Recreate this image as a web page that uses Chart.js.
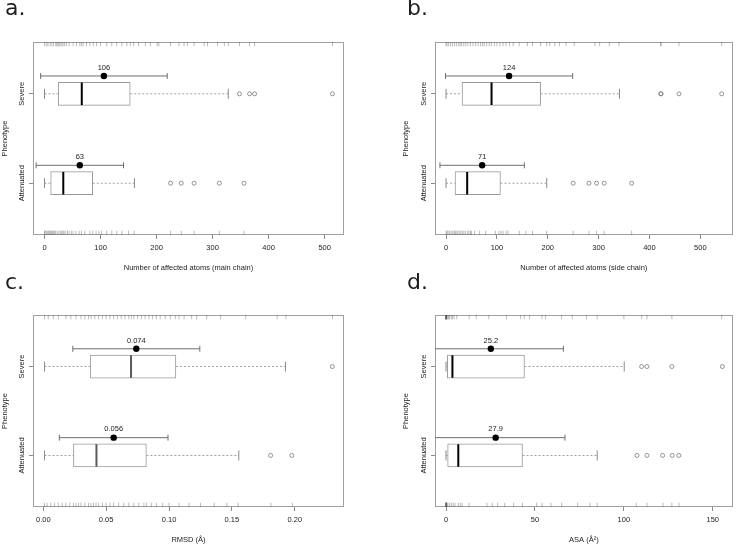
<!DOCTYPE html>
<html><head><meta charset="utf-8">
<script src="https://cdn.jsdelivr.net/npm/chart.js@4.4.1/dist/chart.umd.min.js"></script>
<style>
html,body{margin:0;padding:0;background:#fff;}
#wrap{position:relative;width:746px;height:544px;overflow:hidden;background:#fff;}
canvas{position:absolute;}
.lt{position:absolute;font-family:"DejaVu Sans",sans-serif;font-size:22px;line-height:22px;color:#1e1e1e;}
</style></head><body>
<div id="wrap">
<canvas id="ca" width="373" height="272" style="left:0;top:0"></canvas>
<canvas id="cb" width="373" height="272" style="left:373px;top:0"></canvas>
<canvas id="cc" width="373" height="272" style="left:0;top:272px"></canvas>
<canvas id="cd" width="373" height="272" style="left:373px;top:272px"></canvas>
<div class="lt" style="left:5px;top:-3px">a.</div>
<div class="lt" style="left:407px;top:-3px">b.</div>
<div class="lt" style="left:5px;top:271px">c.</div>
<div class="lt" style="left:407px;top:271px">d.</div>
</div>
<script>
// ---------- data ----------
const categories = ['Attenuated', 'Severe'];
const catPos = [1, 2];

// a. main chain
const aTicks = [0, 100, 200, 300, 400, 500];
const aTickLabels = ['0', '100', '200', '300', '400', '500'];
const aLower = [0, 0];
const aQ1 = [11, 24.5];
const aMedian = [33.5, 66.5];
const aQ3 = [86, 153];
const aUpper = [160.5, 328];
const aMean = [63, 106];
const aSD = [78, 113];
const aOutAtt = [225, 244, 267, 312, 356];
const aOutSev = [348, 366, 375, 514];
const aRugAtt = [0,1,3,5,7,9,11,12,14,16,18,20,23,26,29,31,33,35,38,41,44,48,51,56,62,66,72,81,86,92,97,102,111,120,129,138,150,160,225,244,267,312,356];
const aRugSev = [0,3,6,10,13,16,20,22,24,26,28,31,33,36,39,44,51,57,63,66,69,75,81,87,93,100,111,120,129,138,147,153,159,168,180,189,201,204,225,240,249,255,267,285,291,309,321,328,348,366,375,514];

// b. side chain
const bTicks = [0, 100, 200, 300, 400, 500];
const bTickLabels = ['0', '100', '200', '300', '400', '500'];
const bLower = [0, 0];
const bQ1 = [17.7, 31.5];
const bMedian = [41.6, 89.5];
const bQ3 = [107, 186];
const bUpper = [198, 341];
const bMean = [71, 124];
const bSD = [83, 125];
const bOutAtt = [250, 281, 296, 311, 365];
const bOutSev = [422, 423, 458, 542];
const bRugAtt = [0,2,4,7,10,13,16,18,20,23,26,29,32,35,38,42,45,48,50,56,66,78,97,104,108,112,118,122,144,157,170,198,250,281,296,311,365];
const bRugSev = [0,2,5,9,13,17,21,25,28,31,35,39,43,48,53,58,63,68,72,75,80,85,89,95,100,106,112,118,125,132,144,160,170,186,198,204,214,223,236,252,293,302,321,340,422,423,458,542];

// c. RMSD
const cTicks = [0, 0.05, 0.10, 0.15, 0.20];
const cTickLabels = ['0.00', '0.05', '0.10', '0.15', '0.20'];
const cLower = [0.001, 0.001];
const cQ1 = [0.024, 0.0373];
const cMedian = [0.0423, 0.0698];
const cQ3 = [0.082, 0.1055];
const cUpper = [0.1555, 0.1926];
const cMean = [0.056, 0.074];
const cSD = [0.0432, 0.0505];
const cOutAtt = [0.1808, 0.1976];
const cOutSev = [0.2299];
const cRugAtt = [0.001,0.003,0.006,0.009,0.012,0.015,0.018,0.021,0.024,0.026,0.028,0.03,0.033,0.036,0.038,0.04,0.042,0.044,0.047,0.05,0.053,0.056,0.06,0.064,0.068,0.072,0.076,0.08,0.082,0.086,0.09,0.095,0.1,0.108,0.116,0.125,0.136,0.146,0.155,0.181,0.198];
const cRugSev = [0.001,0.004,0.008,0.012,0.018,0.022,0.026,0.03,0.033,0.036,0.038,0.041,0.044,0.047,0.05,0.053,0.056,0.059,0.062,0.065,0.068,0.07,0.072,0.075,0.078,0.081,0.084,0.087,0.09,0.093,0.097,0.101,0.105,0.108,0.112,0.118,0.122,0.13,0.141,0.161,0.186,0.193,0.23];

// d. ASA
const dTicks = [0, 50, 100, 150];
const dTickLabels = ['0', '50', '100', '150'];
const dLower = [0, 0];
const dQ1 = [0.9, 0.7];
const dMedian = [6.9, 3.6];
const dQ3 = [43, 44.1];
const dUpper = [85, 100.2];
const dMean = [27.9, 25.2];
const dSD = [39, 40.8];
const dOutAtt = [107.4, 113, 121.8, 127.2, 130.9];
const dOutSev = [110, 113, 127, 155.4];
const dRugAtt = [0,0,0,0,0,0,0,0.5,1,2,3,4,5,6.9,8,9,13,23,26,29,33,38,43,51,54,59,65,74,81,85,107,113,122,127,131];
const dRugSev = [0,0,0,0,0,0,0,0,0.5,1,1.5,2,3,3.6,4.5,6,13,17,24,34,42,44,47,54,56,65,71,79,85,100,110,113,127,155];

// ---------- drawing ----------
const Y_MIN = 0.42, Y_MAX = 2.58, MEAN_OFF = 0.2, RUG_INSET = 0.024;
const FONT = '"Liberation Sans", Arial, Helvetica, sans-serif';
Chart.defaults.font.family = FONT;
Chart.defaults.font.size = 7.5;
Chart.defaults.color = '#222';

function makePanel(id, p) {
  const all = p.rugAtt.concat(p.rugSev);
  const lo = Math.min(...all), hi = Math.max(...all);
  const ext = (hi - lo) * 0.04;
  const ds = [];
  // mean points
  ds.push({type: 'scatter', data: categories.map((c, i) => ({x: p.mean[i], y: catPos[i] + MEAN_OFF})),
    pointRadius: 3.2, pointBackgroundColor: '#000', pointBorderColor: '#000', pointBorderWidth: 0});
  // SD bars
  categories.forEach((c, i) => ds.push({type: 'line', data: [
      {x: p.mean[i] - p.sd[i], y: catPos[i] + MEAN_OFF}, {x: p.mean[i] + p.sd[i], y: catPos[i] + MEAN_OFF}],
    borderColor: '#6f6f6f', borderWidth: 1, pointStyle: 'line', pointRotation: 90, pointRadius: 3,
    pointBorderColor: '#6f6f6f', pointBorderWidth: 1, fill: false}));
  // medians
  ds.push({type: 'scatter', data: categories.map((c, i) => ({x: p.median[i], y: catPos[i]})),
    pointStyle: 'line', pointRotation: 90, pointRadius: 11.3, pointBorderColor: p.medColor, pointBorderWidth: 2});
  // outliers
  [p.outAtt, p.outSev].forEach((arr, i) => ds.push({type: 'scatter', data: arr.map(v => ({x: v, y: catPos[i]})),
    pointStyle: 'circle', pointRadius: 2, pointBorderWidth: 0.8, pointBorderColor: '#7a7a7a', pointBackgroundColor: 'rgba(255,255,255,0)'}));
  // staples
  ds.push({type: 'scatter', data: categories.flatMap((c, i) => [{x: p.lower[i], y: catPos[i]}, {x: p.upper[i], y: catPos[i]}]),
    pointStyle: 'line', pointRotation: 90, pointRadius: 5, pointBorderColor: '#8a8a8a', pointBorderWidth: 1});
  // boxes
  ds.push({type: 'bar', indexAxis: 'y', grouped: false,
    data: categories.map((c, i) => ({y: catPos[i], x: [p.q1[i], p.q3[i]]})),
    backgroundColor: '#ffffff', borderColor: '#9a9a9a', borderWidth: 1, borderSkipped: false, barThickness: 23});
  // whiskers
  categories.forEach((c, i) => {
    [[p.lower[i], p.q1[i]], [p.q3[i], p.upper[i]]].forEach(seg => ds.push({type: 'line',
      data: seg.map(v => ({x: v, y: catPos[i]})), borderColor: '#8a8a8a', borderWidth: 0.8,
      borderDash: [2, 2], pointRadius: 0, fill: false}));
  });
  // rugs
  ds.push({type: 'scatter', data: p.rugAtt.map(v => ({x: v, y: Y_MIN + RUG_INSET})),
    pointStyle: 'line', pointRotation: 90, pointRadius: 2.2, pointBorderColor: 'rgba(70,70,70,0.45)', pointBorderWidth: 0.8});
  ds.push({type: 'scatter', data: p.rugSev.map(v => ({x: v, y: Y_MAX - RUG_INSET})),
    pointStyle: 'line', pointRotation: 90, pointRadius: 2.2, pointBorderColor: 'rgba(70,70,70,0.45)', pointBorderWidth: 0.8});

  const plug = {
    id: 'rstyle' + id,
    beforeDatasetsDraw(chart) {
      const {ctx, chartArea: a} = chart;
      ctx.save();
      ctx.strokeStyle = '#a0a0a0'; ctx.lineWidth = 1;
      ctx.strokeRect(Math.round(a.left) + 0.5, Math.round(a.top) + 0.5, Math.round(a.right - a.left) - 1, Math.round(a.bottom - a.top) - 1);
      ctx.restore();
    },
    afterDraw(chart) {
      const {ctx, chartArea: a, scales: {x, y}} = chart;
      ctx.save();
      ctx.font = '7.5px ' + FONT;
      ctx.fillStyle = '#222';
      ctx.textAlign = 'center'; ctx.textBaseline = 'middle';
      p.mean.forEach((m, i) => ctx.fillText(p.fmt(m), x.getPixelForValue(m), y.getPixelForValue(catPos[i] + MEAN_OFF) - 8.3));
      categories.forEach((c, i) => {
        ctx.save();
        ctx.translate(a.left - 11.3, y.getPixelForValue(catPos[i]));
        ctx.rotate(-Math.PI / 2);
        ctx.fillText(c, 0, 0);
        ctx.restore();
      });
      ctx.restore();
    }
  };

  return new Chart(document.getElementById(id), {
    type: 'scatter',
    data: {datasets: ds},
    plugins: [plug],
    options: {
      responsive: false, animation: false, devicePixelRatio: 1,
      layout: {padding: {left: p.padLeft, right: p.padRight, top: p.padTop, bottom: 0}},
      plugins: {legend: {display: false}, tooltip: {enabled: false}},
      scales: {
        x: {type: 'linear', min: lo - ext, max: hi + ext, offset: false,
          afterBuildTicks: s => { s.ticks = p.ticks.map(v => ({value: v})); },
          afterFit: s => { s.height = 37; },
          ticks: {autoSkip: false, maxRotation: 0, padding: 4.5, color: '#222', callback: (v, i) => p.tickLabels[i]},
          grid: {display: true, drawOnChartArea: false, drawTicks: true, tickLength: 4, color: '#8a8a8a', offset: false},
          border: {display: false},
          title: {display: true, text: p.xTitle, color: '#222', padding: {top: 1.5, bottom: 0}, font: {size: 7.5}}},
        y: {type: 'linear', min: Y_MIN, max: Y_MAX, offset: false,
          afterBuildTicks: s => { s.ticks = catPos.map(v => ({value: v})); },
          afterFit: s => { s.width = p.yWidth; },
          ticks: {display: false},
          grid: {display: true, drawOnChartArea: false, drawTicks: true, tickLength: 4, color: '#8a8a8a', offset: false},
          border: {display: false},
          title: {display: true, text: 'Phenotype', color: '#222', padding: {top: 0, bottom: 0}, font: {size: 7.5}}}
      }
    }
  });
}

makePanel('ca', {ticks: aTicks, tickLabels: aTickLabels, lower: aLower, q1: aQ1, median: aMedian, q3: aQ3, upper: aUpper,
  mean: aMean, sd: aSD, outAtt: aOutAtt, outSev: aOutSev, rugAtt: aRugAtt, rugSev: aRugSev,
  fmt: v => v.toFixed(0), xTitle: 'Number of affected atoms (main chain)', medColor: '#000',
  padLeft: 0, padRight: 29, padTop: 42, yWidth: 33});
makePanel('cb', {ticks: bTicks, tickLabels: bTickLabels, lower: bLower, q1: bQ1, median: bMedian, q3: bQ3, upper: bUpper,
  mean: bMean, sd: bSD, outAtt: bOutAtt, outSev: bOutSev, rugAtt: bRugAtt, rugSev: bRugSev,
  fmt: v => v.toFixed(0), xTitle: 'Number of affected atoms (side chain)', medColor: '#000',
  padLeft: 28, padRight: 0, padTop: 42, yWidth: 34});
makePanel('cc', {ticks: cTicks, tickLabels: cTickLabels, lower: cLower, q1: cQ1, median: cMedian, q3: cQ3, upper: cUpper,
  mean: cMean, sd: cSD, outAtt: cOutAtt, outSev: cOutSev, rugAtt: cRugAtt, rugSev: cRugSev,
  fmt: v => v.toFixed(3), xTitle: 'RMSD (Å)', medColor: '#5a5a5a',
  padLeft: 0, padRight: 29, padTop: 43, yWidth: 33});
makePanel('cd', {ticks: dTicks, tickLabels: dTickLabels, lower: dLower, q1: dQ1, median: dMedian, q3: dQ3, upper: dUpper,
  mean: dMean, sd: dSD, outAtt: dOutAtt, outSev: dOutSev, rugAtt: dRugAtt, rugSev: dRugSev,
  fmt: v => v.toFixed(1), xTitle: 'ASA (Å²)', medColor: '#000',
  padLeft: 28, padRight: 0, padTop: 43, yWidth: 34});
</script>
</body></html>
